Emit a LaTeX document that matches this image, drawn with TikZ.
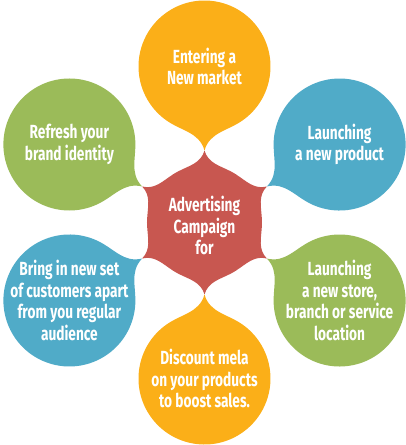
\documentclass[tikz,border=0pt]{standalone}
\usepackage{fontspec}
\newfontfamily\bubblefont[FakeStretch=0.72]{Fira Sans}
\usetikzlibrary{math}
\definecolor{myorange}{RGB}{251,175,24}
\definecolor{myblue}{RGB}{80,171,200}
\definecolor{mygreen}{RGB}{155,187,89}
\definecolor{myred}{RGB}{200,87,80}
\tikzset{bubbletext/.style={color=white, align=center, inner sep=0pt,
  font=\bubblefont\bfseries\fontsize{19}{21.8}\selectfont}}

\begin{document}
\begin{tikzpicture}[x=1pt,y=1pt]
\tikzmath{
\Rc=57.5; % centre disc
\Rt=72;   % tip of the spikes
\Db=156;  % centre of the bubbles
\rb=66;   % bubble radius
\Dt=84;   % tail tip, seen from the bubble
\spk=27;  % half width of a spike
\tw=36;   % half width of a tail
\tipa=16;
}
\useasboundingbox (-204.5,-222.5) rectangle (201.5,222.5);

%centre
\fill[color=myred] (90-\spk:\Rc)
  \foreach \a in {90,150,...,420}{
    to[out=\a-\spk+90,in=\a+\tipa+180] (\a:\Rt)
    to[out=\a+180-\tipa,in=\a+\spk-90] (\a+\spk:\Rc)
    arc[start angle=\a+\spk, end angle=\a+60-\spk, radius=\Rc]
  } -- cycle;
\node[bubbletext] (campaign) at (0,-3) {Advertising\\Campaign\\for};

%bubbles
\foreach \a/\col/\nm/\txt in {
  90/myorange/market/{Entering a\\New market},
  30/myblue/product/{Launching\\a new product},
  -30/mygreen/store/{Launching\\a new store,\\branch or service\\location},
  -90/myorange/discount/{Discount mela\\on your products\\to boost sales.},
  -150/myblue/customers/{Bring in new set\\of customers apart\\from you regular\\audience},
  150/mygreen/brand/{Refresh your\\brand identity}}{
  \begin{scope}[shift={(\a:\Db)}]
    \pgfmathsetmacro{\b}{\a+180}
    \fill[color=\col] (\b-\tw:\rb)
      to[out=\b-\tw+90,in=\b+\tipa+180] (\b:\Dt)
      to[out=\b+180-\tipa,in=\b+\tw-90] (\b+\tw:\rb)
      arc[start angle=\b+\tw, end angle=\b+360-\tw, radius=\rb] -- cycle;
    \node[bubbletext] (\nm) at (0,0) {\txt};
  \end{scope}
}
\end{tikzpicture}
\end{document}
